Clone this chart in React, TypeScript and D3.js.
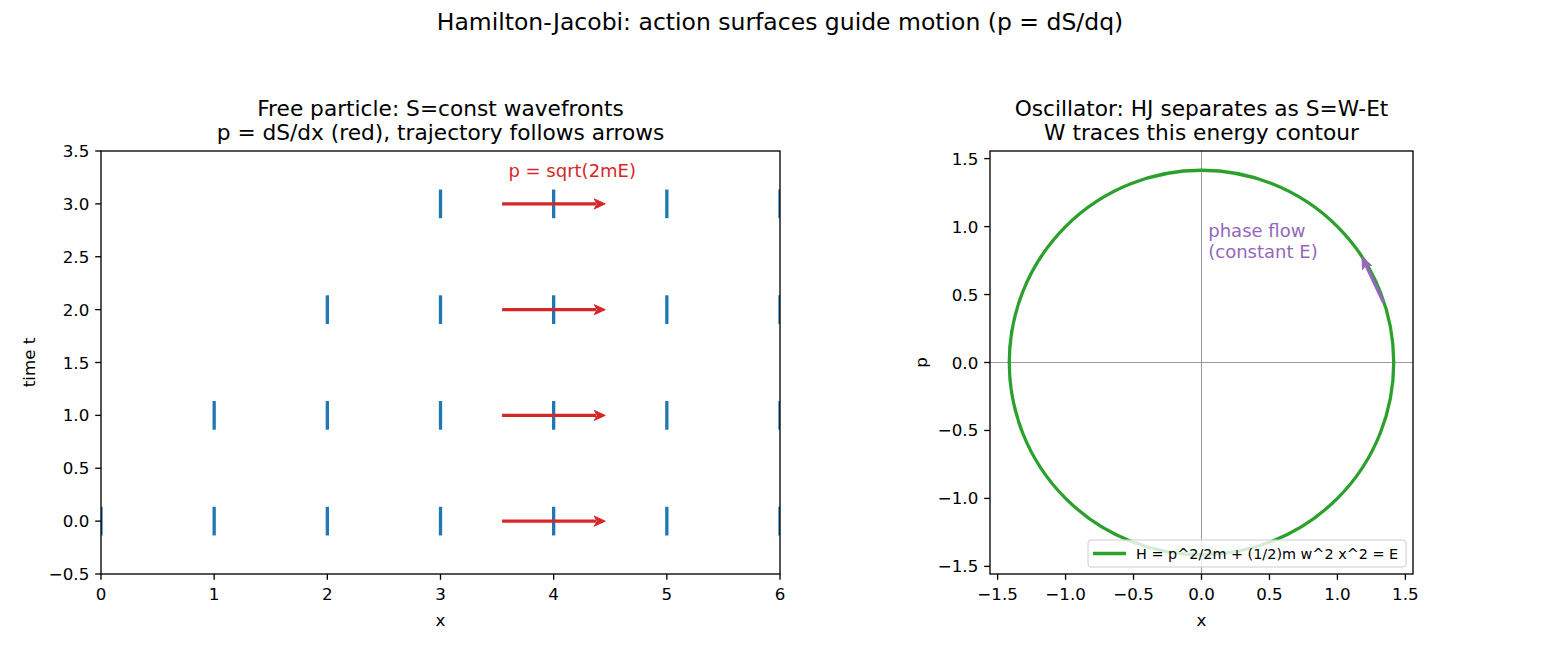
import * as d3 from "d3";

// free particle: wavefront rows (time, x positions of S=const fronts)
const frontTimes = [0, 1, 2, 3];
const frontXs = [
  [0, 1, 2, 3, 4, 5, 6],
  [1, 2, 3, 4, 5, 6],
  [2, 3, 4, 5, 6],
  [3, 4, 5, 6],
];
const frontHalf = 0.12;
const momentumTimes = [0, 1, 2, 3];
const momentumFrom = 3.5;
const momentumTo = 4.5;

const leftXTicks = [0, 1, 2, 3, 4, 5, 6];
const leftYTicks = [-0.5, 0, 0.5, 1, 1.5, 2, 2.5, 3, 3.5];

// oscillator: H = p^2/2m + (1/2) m w^2 x^2 = E
const energy = 1;
const mass = 1;
const omega = 1;
const phaseLim = 1.556;
const phaseTicks = [-1.5, -1, -0.5, 0, 0.5, 1, 1.5];
const flowFrom = [1.35, 0.42];
const flowTo = [1.17, 0.8];

const FONT = "DejaVu Sans";
const RED = "#d62728";
const BLUE = "#1f77b4";
const GREEN = "#2ca02c";
const PURPLE = "#9467bd";
const TICK = 16.7;

const fmt = (v: number, digits: number) =>
  v.toFixed(digits).replace("-", "\u2212");

function Arrow({ x1, y1, x2, y2, color, width, shrink = 3.3, head = 11, hw = 5 }) {
  const dx = x2 - x1;
  const dy = y2 - y1;
  const len = Math.hypot(dx, dy);
  const ux = dx / len;
  const uy = dy / len;
  const sx = x1 + ux * shrink;
  const sy = y1 + uy * shrink;
  const tx = x2 - ux * shrink;
  const ty = y2 - uy * shrink;
  const bx = tx - ux * head;
  const by = ty - uy * head;
  const px = -uy * hw;
  const py = ux * hw;
  return (
    <g>
      <line x1={sx} y1={sy} x2={bx + ux * 2} y2={by + uy * 2} stroke={color} strokeWidth={width} />
      <path
        d={`M${tx},${ty}L${bx + px},${by + py}L${bx + ux * 3},${by + uy * 3}L${bx - px},${by - py}Z`}
        fill={color}
        stroke={color}
        strokeWidth={1}
        strokeLinejoin="miter"
      />
    </g>
  );
}

function Frame({ x, y, w, h }) {
  return (
    <rect x={x} y={y} width={w} height={h} fill="none" stroke="#000" strokeWidth={1.33} />
  );
}

function FreeParticle() {
  const box = { left: 101, top: 151, width: 679, height: 423 };
  const x = d3.scaleLinear().domain([0, 6]).range([box.left, box.left + box.width]);
  const y = d3.scaleLinear().domain([-0.5, 3.5]).range([box.top + box.height, box.top]);
  const bottom = box.top + box.height;
  return (
    <g>
      <defs>
        <clipPath id="clipLeft">
          <rect x={box.left} y={box.top} width={box.width} height={box.height} />
        </clipPath>
      </defs>
      <g clipPath="url(#clipLeft)">
        {frontTimes.map((t, i) =>
          frontXs[i].map((xv) => (
            <line
              key={`${t}-${xv}`}
              x1={x(xv)}
              x2={x(xv)}
              y1={y(t - frontHalf)}
              y2={y(t + frontHalf)}
              stroke={BLUE}
              strokeWidth={3.3}
              strokeLinecap="square"
            />
          ))
        )}
        {momentumTimes.map((t) => (
          <Arrow
            key={t}
            x1={x(momentumFrom)}
            y1={y(t)}
            x2={x(momentumTo)}
            y2={y(t)}
            color={RED}
            width={3.4}
            shrink={5}
          />
        ))}
      </g>
      <text x={x(3.6)} y={y(3.25)} fill={RED} fontSize={18}>
        p = sqrt(2mE)
      </text>
      <Frame x={box.left} y={box.top} w={box.width} h={box.height} />
      {leftXTicks.map((v) => (
        <g key={v}>
          <line x1={x(v)} x2={x(v)} y1={bottom} y2={bottom + 5.8} stroke="#000" strokeWidth={1.33} />
          <text x={x(v)} y={bottom + 26} textAnchor="middle" fontSize={TICK}>
            {fmt(v, 0)}
          </text>
        </g>
      ))}
      {leftYTicks.map((v) => (
        <g key={v}>
          <line x1={box.left - 5.8} x2={box.left} y1={y(v)} y2={y(v)} stroke="#000" strokeWidth={1.33} />
          <text x={box.left - 11.7} y={y(v)} dy="0.36em" textAnchor="end" fontSize={TICK}>
            {fmt(v, 1)}
          </text>
        </g>
      ))}
      <text x={x(3)} y={626} textAnchor="middle" fontSize={TICK}>
        x
      </text>
      <text
        transform={`translate(35,${box.top + box.height / 2}) rotate(-90)`}
        textAnchor="middle"
        fontSize={TICK}
      >
        time t
      </text>
      <text x={x(3)} y={115.5} textAnchor="middle" fontSize={21.7}>
        Free particle: S=const wavefronts
      </text>
      <text x={x(3)} y={139.5} textAnchor="middle" fontSize={21.7}>
        p = dS/dx (red), trajectory follows arrows
      </text>
    </g>
  );
}

function Oscillator() {
  const box = { left: 990, top: 151, width: 423, height: 423 };
  const x = d3.scaleLinear().domain([-phaseLim, phaseLim]).range([box.left, box.left + box.width]);
  const y = d3.scaleLinear().domain([-phaseLim, phaseLim]).range([box.top + box.height, box.top]);
  const bottom = box.top + box.height;
  // turning points of the energy contour
  const xMax = Math.sqrt((2 * energy) / (mass * omega * omega));
  const pMax = Math.sqrt(2 * mass * energy);
  const cx = box.left + box.width / 2;
  return (
    <g>
      <defs>
        <clipPath id="clipRight">
          <rect x={box.left} y={box.top} width={box.width} height={box.height} />
        </clipPath>
      </defs>
      <g clipPath="url(#clipRight)">
        <line x1={x(0)} x2={x(0)} y1={box.top} y2={bottom} stroke="#808080" strokeWidth={0.8} />
        <line x1={box.left} x2={box.left + box.width} y1={y(0)} y2={y(0)} stroke="#808080" strokeWidth={0.8} />
        <ellipse
          cx={x(0)}
          cy={y(0)}
          rx={x(xMax) - x(0)}
          ry={y(0) - y(pMax)}
          fill="none"
          stroke={GREEN}
          strokeWidth={3.3}
        />
        <Arrow
          x1={x(flowFrom[0])}
          y1={y(flowFrom[1])}
          x2={x(flowTo[0])}
          y2={y(flowTo[1])}
          color={PURPLE}
          width={3.3}
          head={12}
          hw={5}
        />
      </g>
      <text x={x(0.05)} y={y(0.8) - 17} fill={PURPLE} fontSize={18}>
        phase flow
      </text>
      <text x={x(0.05)} y={y(0.8) + 4} fill={PURPLE} fontSize={18}>
        (constant E)
      </text>
      <Frame x={box.left} y={box.top} w={box.width} h={box.height} />
      {phaseTicks.map((v) => (
        <g key={`x${v}`}>
          <line x1={x(v)} x2={x(v)} y1={bottom} y2={bottom + 5.8} stroke="#000" strokeWidth={1.33} />
          <text x={x(v)} y={bottom + 26} textAnchor="middle" fontSize={TICK}>
            {fmt(v, 1)}
          </text>
        </g>
      ))}
      {phaseTicks.map((v) => (
        <g key={`y${v}`}>
          <line x1={box.left - 5.8} x2={box.left} y1={y(v)} y2={y(v)} stroke="#000" strokeWidth={1.33} />
          <text x={box.left - 11.7} y={y(v)} dy="0.36em" textAnchor="end" fontSize={TICK}>
            {fmt(v, 1)}
          </text>
        </g>
      ))}
      <text x={cx} y={626} textAnchor="middle" fontSize={TICK}>
        x
      </text>
      <text
        transform={`translate(927,${box.top + box.height / 2}) rotate(-90)`}
        textAnchor="middle"
        fontSize={TICK}
      >
        p
      </text>
      <text x={cx} y={115.5} textAnchor="middle" fontSize={21.7}>
        Oscillator: HJ separates as S=W-Et
      </text>
      <text x={cx} y={139.5} textAnchor="middle" fontSize={21.7}>
        W traces this energy contour
      </text>
      {/* legend, lower right */}
      <rect
        x={1088}
        y={540}
        width={318}
        height={27}
        rx={3}
        fill="#fff"
        fillOpacity={0.8}
        stroke="#cccccc"
        strokeWidth={1}
      />
      <line x1={1093} x2={1126} y1={553.5} y2={553.5} stroke={GREEN} strokeWidth={3.3} />
      <text x={1136} y={558.5} fontSize={14.4}>
        H = p^2/2m + (1/2)m w^2 x^2 = E
      </text>
    </g>
  );
}

export default function App() {
  return (
    <svg
      width={1560}
      height={650}
      style={{ position: "absolute", left: 0, top: 0, background: "#fff" }}
      fontFamily={FONT}
    >
      <rect width={1560} height={650} fill="#fff" />
      <text x={780} y={30} textAnchor="middle" fontSize={23.5}>
        Hamilton-Jacobi: action surfaces guide motion (p = dS/dq)
      </text>
      <FreeParticle />
      <Oscillator />
    </svg>
  );
}
